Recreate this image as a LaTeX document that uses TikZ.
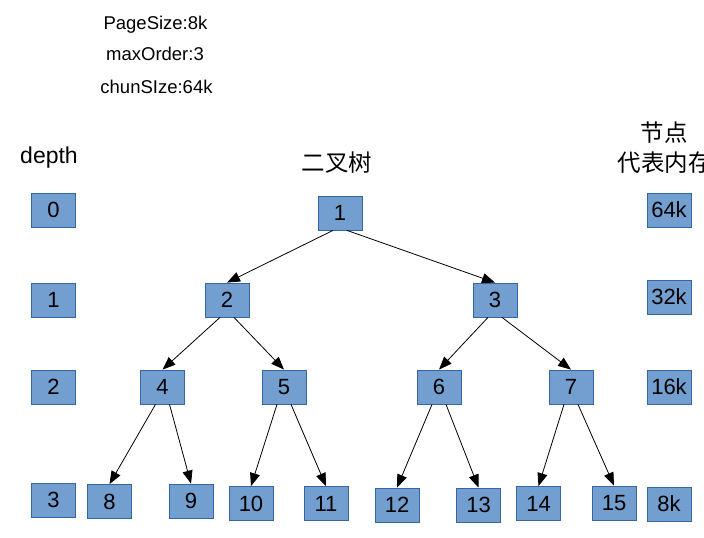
\documentclass[tikz,border=0pt]{standalone}
\usepackage{fontspec}
\setmainfont{Liberation Sans}
\newfontfamily\cjkfont{Noto Sans CJK SC}
\usetikzlibrary{arrows.meta}
\definecolor{boxfill}{HTML}{729FCF}
\definecolor{boxline}{HTML}{3465A4}

\begin{document}
\begin{tikzpicture}[x=1pt,y=-1pt,
  memnode/.style={rectangle,draw=boxline,fill=boxfill,line width=0.8pt,minimum width=44pt,minimum height=34pt,inner sep=0pt,font=\fontsize{22}{24}\selectfont},
  infotext/.style={anchor=base,font=\fontsize{18.5}{20}\selectfont},
  cjktext/.style={font=\fontsize{23.5}{25}\selectfont\cjkfont},
  split/.style={line width=0.8pt,-{Triangle[length=13pt,width=10pt]}}]
  \clip (0,0) rectangle (704,538);

  \path
  % parameters
  (155.5,29) node[infotext] (pagesize) {PageSize:8k}
  (155,60) node[infotext] (maxorder) {maxOrder:3}
  (156.5,93) node[infotext] (chunksize) {chunSIze:64k}

  % headings
  (49,163) node[anchor=base,font=\fontsize{23}{24}\selectfont] (depth) {depth}
  (337,163) node[cjktext] (treetitle) {二叉树}
  (664,133) node[cjktext] (nodetitle) {节点}
  (614,163) node[cjktext,anchor=west] (memtitle) {代表内存}

  % depth column
  (53.5,210) node[memnode] (d0) {0}
  (53.5,300) node[memnode] (d1) {1}
  (53.5,387) node[memnode] (d2) {2}
  (53.5,500) node[memnode] (d3) {3}

  % memory column
  (669,210) node[memnode] (m0) {64k}
  (669,297) node[memnode] (m1) {32k}
  (669,387) node[memnode] (m2) {16k}
  (669,504) node[memnode] (m3) {8k}

  % tree
  (340,213) node[memnode] (n1) {1}
  (227,300) node[memnode] (n2) {2}
  (495,300) node[memnode] (n3) {3}
  (162.5,387) node[memnode] (n4) {4}
  (284,387) node[memnode] (n5) {5}
  (439,387) node[memnode] (n6) {6}
  (571,387) node[memnode] (n7) {7}
  (109.5,501.5) node[memnode] (n8) {8}
  (191,501) node[memnode] (n9) {9}
  (251,503.5) node[memnode] (n10) {10}
  (326,503.5) node[memnode] (n11) {11}
  (397,505) node[memnode] (n12) {12}
  (478.5,505) node[memnode] (n13) {13}
  (538.5,503.5) node[memnode] (n14) {14}
  (614,503) node[memnode] (n15) {15}
  ;

  \foreach \p/\l/\r in {1/2/3,2/4/5,3/6/7,4/8/9,5/10/11,6/12/13,7/14/15} {
    \draw[split] ([xshift=-7pt]n\p.south) -- (n\l.north);
    \draw[split] ([xshift=7pt]n\p.south) -- (n\r.north);
  }
\end{tikzpicture}
\end{document}
